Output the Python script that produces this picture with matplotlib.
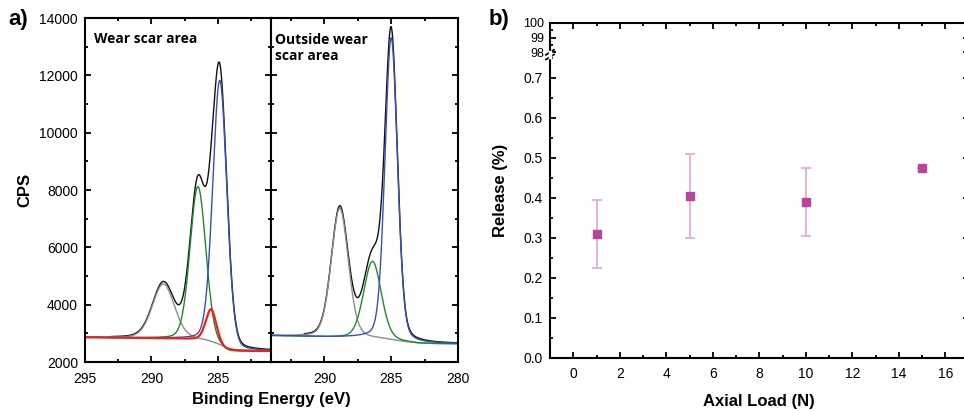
import numpy as np
import matplotlib
matplotlib.use("Agg")
import matplotlib.pyplot as plt
from matplotlib.ticker import MultipleLocator

plt.rcParams['font.family'] = ['Liberation Sans', 'DejaVu Sans']

# ---- a) XPS C1s spectra: background nodes and fitted peak parameters ----
# wear scar area
wear_bg_e = [295, 290, 288, 287, 286, 285.5, 285, 284.5, 284.1, 283.5, 281]
wear_bg_cps = [2860, 2830, 2810, 2790, 2760, 2680, 2560, 2440, 2390, 2380, 2380]
wear_gray_bg_cps = [2860, 2830, 2815, 2800, 2760, 2700, 2620, 2530, 2450, 2390, 2380]
# (centre eV, height above background, FWHM eV, lorentz fraction)
wear_gray = (289.1, 1900, 1.95, 0.2)
wear_green = (286.5, 5340, 1.4, 0.15)
wear_blue = (284.85, 9300, 1.25, 0.15)
wear_red = (285.5, 1160, 0.95, 0.3)

# outside wear scar area
out_bg_e = [294, 292, 290, 288, 287, 286, 285, 284, 283, 282, 280]
out_bg_cps = [2920, 2900, 2870, 2850, 2840, 2810, 2760, 2700, 2650, 2635, 2630]
out_gray = (288.85, 4500, 1.5, 0.2)
out_green = (286.4, 2690, 1.55, 0.2)
out_blue = (285.0, 10550, 1.1, 0.2)

# ---- b) release vs axial load ----
load = [1, 5, 10, 15]
release = [0.31, 0.405, 0.39, 0.475]
release_err = [0.085, 0.105, 0.085, 0.0]

black = '#111111'
gray = '#8c8c8c'
green = '#1e8a2e'
blue = '#3a4fb0'
red = '#e8241c'
magenta = '#b8449c'
pink = '#e3a6d6'


def peak(e, p):
    c, h, w, m = p
    x = (e - c) / w
    return h * ((1 - m) * np.exp(-4 * np.log(2) * x ** 2) + m / (1 + 4 * x ** 2))


def style_axes(ax):
    for s in ax.spines.values():
        s.set_linewidth(1.5)
    ax.tick_params(which='both', direction='in', top=True, right=True,
                   width=1.3, labelsize=10)
    ax.tick_params(which='major', length=4.5)
    ax.tick_params(which='minor', length=2.5)
    ax.tick_params(axis='x', pad=7)
    ax.tick_params(axis='y', pad=5)


def style_xps(ax):
    style_axes(ax)
    ax.set_ylim(2000, 14000)
    ax.yaxis.set_major_locator(MultipleLocator(2000))
    ax.yaxis.set_minor_locator(MultipleLocator(1000))
    ax.xaxis.set_major_locator(MultipleLocator(5))
    ax.xaxis.set_minor_locator(MultipleLocator(2.5))


fig = plt.figure(figsize=(9.64, 4.11), dpi=100)
W, H = 964.0, 411.0

# left sub panel
ax1 = fig.add_axes([85 / W, 1 - 362 / H, 186 / W, 344 / H])
e1 = np.linspace(295, 281, 700)
bg1 = np.interp(e1, wear_bg_e[::-1], wear_bg_cps[::-1])
gbg1 = np.interp(e1, wear_bg_e[::-1], wear_gray_bg_cps[::-1])
env1 = bg1 + peak(e1, wear_gray) + peak(e1, wear_green) + peak(e1, wear_blue) + peak(e1, wear_red)
m1 = e1 <= 293
ax1.plot(e1[m1], env1[m1], color=black, lw=1.0)
ax1.plot(e1, gbg1 + peak(e1, wear_gray), color=gray, lw=1.0)
ax1.plot(e1, bg1 + peak(e1, wear_green), color=green, lw=1.0)
ax1.plot(e1, bg1 + peak(e1, wear_blue), color=blue, lw=1.0)
ax1.plot(e1, bg1 + peak(e1, wear_red), color=red, lw=1.6)
ax1.set_xlim(295, 281)
style_xps(ax1)
ax1.text(0.05, 0.94, 'Wear scar area', transform=ax1.transAxes, fontsize=10,
         fontweight='bold', family=['Open Sans', 'DejaVu Sans'], va='center')

# right sub panel
ax2 = fig.add_axes([271 / W, 1 - 362 / H, 187 / W, 344 / H])
e2 = np.linspace(294, 280, 700)
bg2 = np.interp(e2, out_bg_e[::-1], out_bg_cps[::-1])
env2 = bg2 + peak(e2, out_gray) + peak(e2, out_green) + peak(e2, out_blue)
m2 = e2 <= 291.5
ax2.plot(e2[m2], env2[m2], color=black, lw=1.0)
ax2.plot(e2, bg2 + peak(e2, out_gray), color=gray, lw=1.0)
ax2.plot(e2, bg2 + peak(e2, out_green), color=green, lw=1.0)
ax2.plot(e2, bg2 + peak(e2, out_blue), color=blue, lw=1.0)
ax2.set_xlim(294, 280)
style_xps(ax2)
ax2.tick_params(labelleft=False)
ax2.text(0.02, 0.955, 'Outside wear\nscar area', transform=ax2.transAxes, fontsize=10,
         fontweight='bold', family=['Open Sans', 'DejaVu Sans'], va='top',
         linespacing=1.15)

fig.text(25 / W, 1 - 190 / H, 'CPS', rotation=90, fontsize=12, fontweight='bold',
         ha='center', va='center')
fig.text(271 / W, 1 - 399 / H, 'Binding Energy (eV)', fontsize=12, fontweight='bold',
         ha='center', va='center')
fig.text(8 / W, 1 - 20 / H, 'a)', fontsize=16, fontweight='bold', va='center')

# ---- b) broken axis ----
bw = 418.5 / W
ax_hi = fig.add_axes([550 / W, 1 - 52.3 / H, bw, 29.6 / H])
ax_lo = fig.add_axes([550 / W, 1 - 357.7 / H, bw, 300 / H], sharex=ax_hi)

for ax in (ax_hi, ax_lo):
    style_axes(ax)
    ax.errorbar(load, release, yerr=release_err, fmt='none',
                ecolor=pink, elinewidth=1.2, capsize=3.5, capthick=1.2)
    ax.plot(load, release, 's', color=magenta, ms=5.5, mec=magenta)

ax_lo.set_xlim(-1, 17)
ax_lo.xaxis.set_major_locator(MultipleLocator(2))
ax_lo.xaxis.set_minor_locator(MultipleLocator(1))
ax_lo.set_ylim(0, 0.75)
ax_lo.set_yticks([0.0, 0.1, 0.2, 0.3, 0.4, 0.5, 0.6, 0.7])
ax_lo.yaxis.set_minor_locator(MultipleLocator(0.05))
ax_lo.spines['top'].set_visible(False)
ax_lo.tick_params(top=False, which='both')

ax_hi.set_ylim(98, 100)
ax_hi.set_yticks([98, 99, 100])
ax_hi.yaxis.set_minor_locator(MultipleLocator(0.5))
ax_hi.spines['bottom'].set_visible(False)
ax_hi.tick_params(bottom=False, labelbottom=False, which='both')
ax_hi.tick_params(axis='y', labelsize=9, pad=4)

# break marks on the left spine
for yy in (52.3, 57.0):
    fig.add_artist(plt.Line2D([546 / W, 554 / W], [1 - (yy + 2.5) / H, 1 - (yy - 2.5) / H],
                              color='black', lw=1.3))
fig.add_artist(plt.Line2D([550 / W, 550 / W], [1 - 57.0 / H, 1 - 52.3 / H],
                          color='white', lw=2.5))

ax_lo.set_xlabel('Axial Load (N)', fontsize=12, fontweight='bold', labelpad=9)
fig.text(500 / W, 1 - 190 / H, 'Release (%)', rotation=90, fontsize=12,
         fontweight='bold', ha='center', va='center')
fig.text(489 / W, 1 - 20 / H, 'b)', fontsize=16, fontweight='bold', va='center')

fig.savefig('out.png', dpi=100)
